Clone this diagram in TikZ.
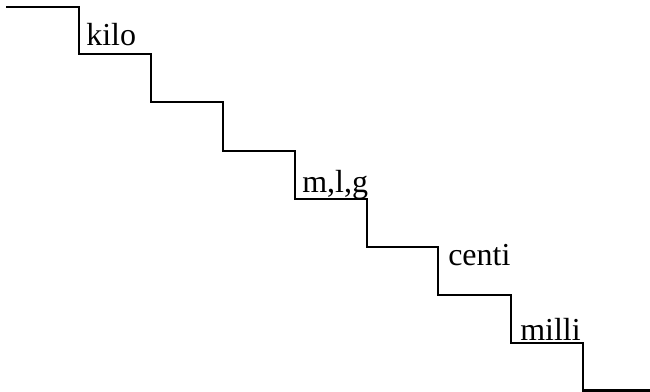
\documentclass[tikz,border=0pt]{standalone}
\usepackage{fontspec}
\setmainfont{Liberation Serif}
\begin{document}
\begin{tikzpicture}[x=0.75pt,y=-0.75pt,
  stair/.style={line width=1.6pt, line join=miter},
  lbl/.style={anchor=base west, inner sep=0pt, font=\fontsize{24pt}{28pt}\selectfont}]
\useasboundingbox (0,0) rectangle (650,392);
\draw[stair] (6,7) -- (79,7) -- (79,54) -- (151,54) -- (151,102) -- (223,102)
  -- (223,151) -- (295,151) -- (295,199) -- (367,199) -- (367,247) -- (438,247)
  -- (438,295) -- (511,295) -- (511,343) -- (583,343) -- (583,390.5) -- (651,390.5);
\node[lbl] (kilo) at (86,46) {kilo};
\node[lbl] (mlg) at (302,193) {m,l,g};
\node[lbl] (centi) at (448,266) {centi};
\node[lbl] (milli) at (520,340) {milli};
\end{tikzpicture}
\end{document}
